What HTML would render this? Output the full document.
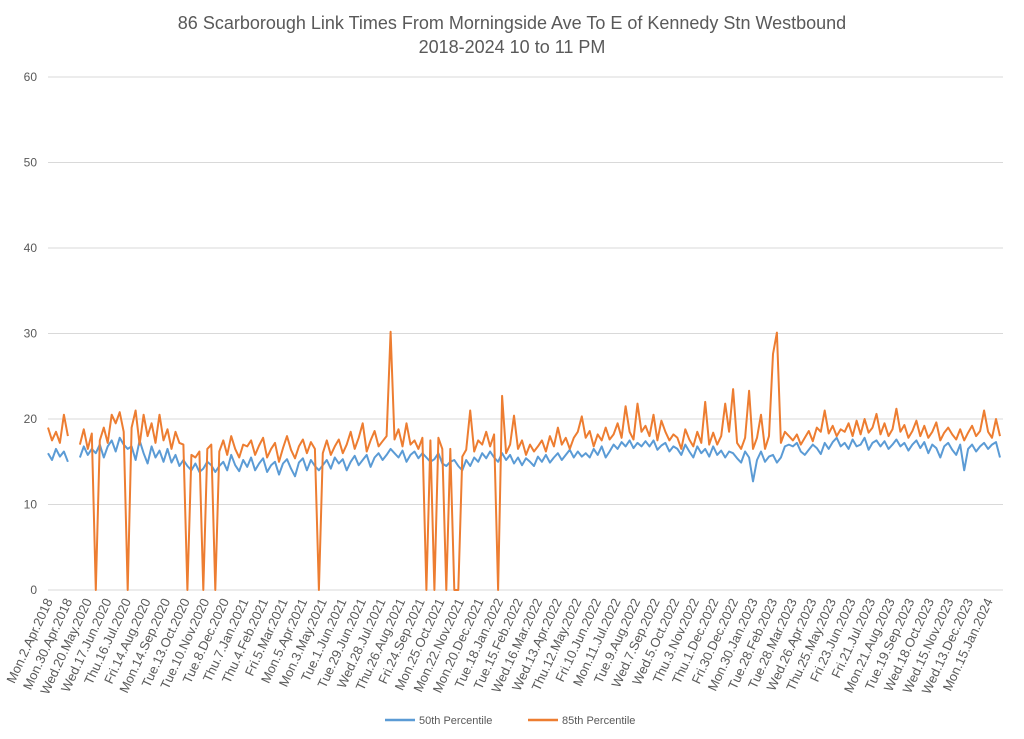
<!DOCTYPE html>
<html><head><meta charset="utf-8"><style>
html,body{margin:0;padding:0;background:#fff;}
svg{display:block;font-family:"Liberation Sans",Arial,sans-serif;}
</style></head><body>
<svg id="chart" width="1024" height="739" viewBox="0 0 1024 739" xmlns="http://www.w3.org/2000/svg">
<text x="512" y="29" text-anchor="middle" font-size="18" fill="#595959">86 Scarborough Link Times From Morningside Ave To E of Kennedy Stn Westbound</text>
<text x="512" y="53" text-anchor="middle" font-size="18" fill="#595959">2018-2024 10 to 11 PM</text>
<g id="grid"></g><g id="ylabels"></g><g id="xlabels"></g><g id="series"></g>
<g>
<line x1="385" y1="720" x2="415" y2="720" stroke="#5b9bd5" stroke-width="2.5"/>
<text x="419" y="724" font-size="11" fill="#595959">50th Percentile</text>
<line x1="528" y1="720" x2="558" y2="720" stroke="#ed7d31" stroke-width="2.5"/>
<text x="562" y="724" font-size="11" fill="#595959">85th Percentile</text>
</g>
</svg>
<script>
const yTicks=[0,10,20,30,40,50,60];
const dateLabels=["Mon.2.Apr.2018","Mon.30.Apr.2018","Wed.20.May.2020","Wed.17.Jun.2020","Thu.16.Jul.2020","Fri.14.Aug.2020","Mon.14.Sep.2020","Tue.13.Oct.2020","Tue.10.Nov.2020","Tue.8.Dec.2020","Thu.7.Jan.2021","Thu.4.Feb.2021","Fri.5.Mar.2021","Mon.5.Apr.2021","Mon.3.May.2021","Tue.1.Jun.2021","Tue.29.Jun.2021","Wed.28.Jul.2021","Thu.26.Aug.2021","Fri.24.Sep.2021","Mon.25.Oct.2021","Mon.22.Nov.2021","Mon.20.Dec.2021","Tue.18.Jan.2022","Tue.15.Feb.2022","Wed.16.Mar.2022","Wed.13.Apr.2022","Thu.12.May.2022","Fri.10.Jun.2022","Mon.11.Jul.2022","Tue.9.Aug.2022","Wed.7.Sep.2022","Wed.5.Oct.2022","Thu.3.Nov.2022","Thu.1.Dec.2022","Fri.30.Dec.2022","Mon.30.Jan.2023","Tue.28.Feb.2023","Tue.28.Mar.2023","Wed.26.Apr.2023","Thu.25.May.2023","Fri.23.Jun.2023","Fri.21.Jul.2023","Mon.21.Aug.2023","Tue.19.Sep.2023","Wed.18.Oct.2023","Wed.15.Nov.2023","Wed.13.Dec.2023","Mon.15.Jan.2024"];
const p50=[16,15.2,16.5,15.6,16.2,15,null,null,15.5,16.8,15.8,16.5,16,17,15.5,16.8,17.5,16.2,17.8,17,16.5,
16.8,15.2,17.5,16,14.8,16.8,15.5,16.3,15,16.5,14.9,15.8,14.5,15.2,14.5,14,14.8,13.8,14.2,15,14.6,13.8,
14.5,15,14,15.8,14.6,13.9,15.2,14.4,15.5,14,14.8,15.4,13.8,14.6,15,13.5,14.8,15.3,14.2,13.3,14.9,15.4,14,15.2,14.5,
14,14.6,15.2,14.2,15.5,14.8,15.3,14,15,15.7,14.6,15.2,15.8,14.4,15.5,16,15.2,15.8,16.5,
16,15.5,16.3,15,15.8,16.2,15.4,16,15.5,15,15.3,16,14.8,14.5,15,15.2,14.5,
14,15.2,14.5,15.5,15,16,15.4,16.2,15.5,15,16,
15.2,15.8,14.8,15.5,14.6,15.4,15,14.5,15.6,15,15.8,14.9,15.5,16,15.2,15.8,16.4,15.5,16.2,15.6,
16,15.5,16.5,15.8,16.8,15.5,16.2,17,16.5,17.3,16.8,17.5,16.6,17.2,16.8,17.4,
16.8,17.5,16.4,16.9,17.2,16.2,16.8,16.5,15.8,17,16.2,15.5,16.8,16,16.5,15.6,16.8,15.8,16.3,15.5,
16.2,16,15.4,14.9,16.2,15.5,12.7,15.2,16.2,15,15.6,15.8,14.9,
15.5,16.8,17,16.8,17.2,16.2,15.8,16.4,17,16.6,15.9,17.2,16.5,17.3,17.8,16.8,
17.2,16.5,17.6,16.8,17,17.8,16.4,17.2,17.5,16.8,17.4,16.5,17,17.6,16.8,17.2,16.3,17,17.5,16.6,17.3,16,17,16.6,15.5,16.8,17.2,16.4,15.8,17,14,16.5,17,16.2,16.8,17.2,16.5,17,17.3,15.5];
const p85=[19,17.5,18.5,17.2,20.5,18,null,null,17,18.8,16.5,18.3,0,17.5,19,17.2,20.5,19.5,20.8,18.5,0,
19,21,17,20.5,18,19.5,17.2,20.5,17.5,18.8,16.5,18.5,17.2,17,0,15.8,15.5,16.2,0,16.5,17,0,
16.2,17.5,15.8,18,16.5,15.5,17,16.8,17.5,15.8,16.9,17.8,15.5,16.5,17.2,15,16.6,18,16.4,15.4,16.8,17.6,16,17.3,16.5,
0,16,17.5,15.8,16.8,17.6,16,17,18.5,16.5,17.8,19.5,16.2,17.5,18.6,16.8,17.4,18,30.2,
17.6,18.8,16.8,19.5,17,17.5,16.5,17.8,0,17.5,0,17.8,16.5,0,16.5,0,0,
15.6,16.4,21,16.2,17.5,17,18.5,16.8,18.2,0,22.7,
16,17,20.4,16.5,17.5,15.8,17,16.2,16.8,17.5,16.2,18,16.8,19,17,17.8,16.5,17.8,18.5,20.3,
17.8,18.6,16.8,18.2,17.5,19,17.6,18.2,19.5,17.8,21.5,18.5,17.6,21.8,18.5,19.2,
18,20.5,17.5,19.8,18.5,17.5,18.2,17.8,16.5,18.8,17.6,16.8,18.5,17.2,22,17,18.4,17,18,21.8,
18.5,23.5,17.2,16.5,17.8,23.3,16.5,17.8,20.5,16.5,18,27.6,30.1,
17.2,18.5,18,17.5,18.2,17,17.8,18.6,17.4,19,18.5,21,18.3,19.2,18,18.8,
18.5,19.5,18,19.8,18.2,20,18.4,19,20.6,18.2,19.5,18,18.8,21.2,18.5,19.3,17.8,18.6,19.8,18,19.2,17.8,18.5,19.6,17.5,18.4,19,18.2,17.6,18.8,17.5,18.4,19.2,18,18.6,21,18.5,17.8,20,18];

const NS="http://www.w3.org/2000/svg";
const X0=48,X1=1000,Y0=590,Y60=77,PX0=48,PX1=1003;
const N=Math.max(p50.length,p85.length);
function xs(i){return X0+i*(X1-X0)/(N-1);}
function ys(v){return Y0-(v/60)*(Y0-Y60);}
function lx(k){return 53+k*(993-53)/(dateLabels.length-1);}
function mk(tag,attrs,parent){const e=document.createElementNS(NS,tag);for(const k in attrs)e.setAttribute(k,attrs[k]);parent.appendChild(e);return e;}
const grid=document.getElementById('grid'),yl=document.getElementById('ylabels'),xl=document.getElementById('xlabels'),ser=document.getElementById('series');
yTicks.forEach(t=>{
 const l=mk('line',{x1:PX0,x2:PX1,y1:ys(t),y2:ys(t),stroke:'#d9d9d9','stroke-width':1},grid);
 
 
 const tx=mk('text',{x:37,y:ys(t)+4,'text-anchor':'end','font-size':12,fill:'#595959'},yl);
 tx.textContent=t;
 
 
});
dateLabels.forEach((d,k)=>{
 const x=lx(k),y=601;
 const tx=mk('text',{x:x,y:y,'text-anchor':'end','font-size':13,fill:'#595959',transform:`rotate(-65 ${x} ${y})`},xl);
 tx.textContent=d;
 
 
});
function path(arr){let d='',pen=false;arr.forEach((v,i)=>{if(v===null){pen=false;return;}d+=(pen?'L':'M')+xs(i).toFixed(1)+' '+ys(v).toFixed(1)+' ';pen=true;});return d;}
const b=mk('path',{d:path(p50),fill:'none',stroke:'#5b9bd5','stroke-width':2,'stroke-linejoin':'round'},ser);


const o=mk('path',{d:path(p85),fill:'none',stroke:'#ed7d31','stroke-width':2,'stroke-linejoin':'round'},ser);


</script>
</body></html>
